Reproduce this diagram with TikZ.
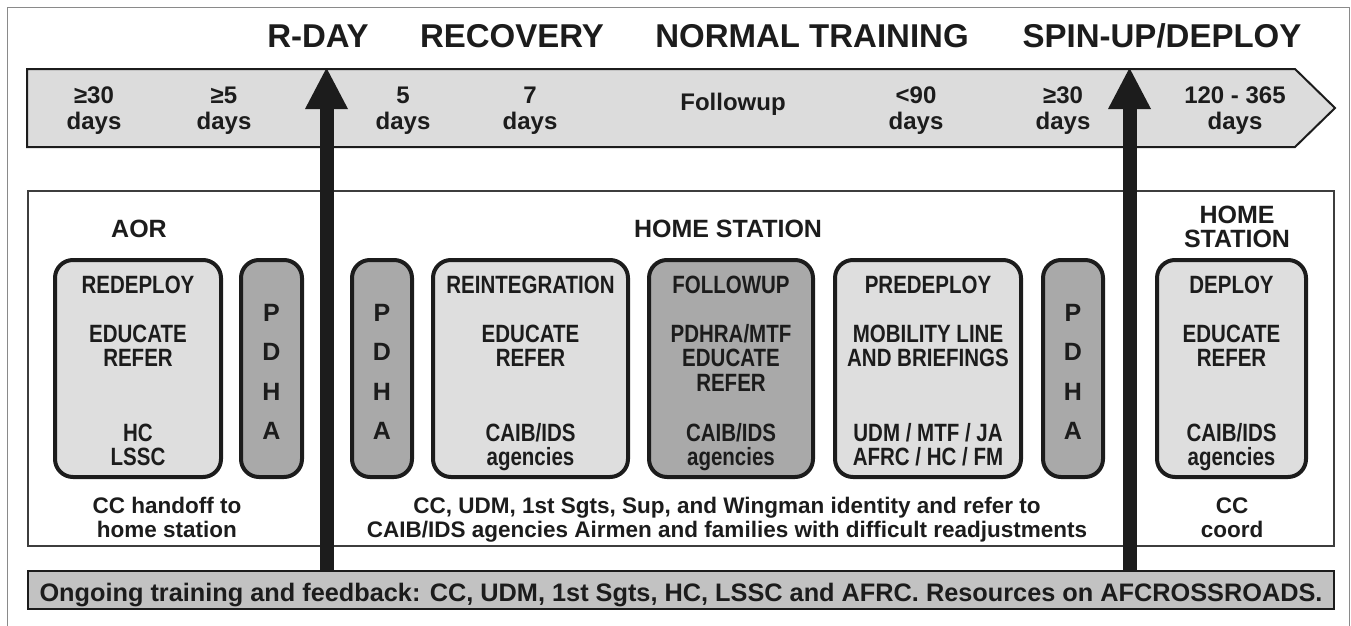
\documentclass[tikz,border=0pt]{standalone}
\usepackage{fontspec}
\setmainfont{Liberation Sans}
\newfontfamily\condsans{Liberation Sans}[FakeStretch=0.82]
\usetikzlibrary{arrows.meta}
\definecolor{ink}{HTML}{1C1C1C}
\definecolor{bandfill}{HTML}{DCDCDC}
\definecolor{lightfill}{HTML}{DEDEDE}
\definecolor{darkfill}{HTML}{A9A9A9}
\definecolor{barfill}{HTML}{C2C2C2}
\definecolor{framegray}{HTML}{8A8A8A}
\newcommand\txtlines[6]{%
  \foreach \t [count=\i] in {#6}{\node[#5] (#1-\i) at ({#2},{#3+(\i-1)*#4}) {\t};}}
\newcommand\gbox[4]{%
  \node[#4, minimum width={#3-#2-4}, minimum height=217] (#1) at ({(#2+#3)/2},368.5) {};}
\begin{document}
\begin{tikzpicture}[x=1pt,y=-1pt,
  headtxt/.style={anchor=base,inner sep=0,text=ink,font=\fontsize{33}{33}\selectfont\bfseries},
  bandtxt/.style={anchor=base,inner sep=0,text=ink,font=\fontsize{24}{24}\selectfont\bfseries},
  secttxt/.style={anchor=base,inner sep=0,text=ink,font=\fontsize{25}{25}\selectfont\bfseries},
  boxtxt/.style={anchor=base,inner sep=0,text=ink,font=\condsans\fontsize{25}{25}\selectfont\bfseries},
  pdhatxt/.style={anchor=base,inner sep=0,text=ink,font=\fontsize{25}{25}\selectfont\bfseries},
  bottxt/.style={anchor=base,inner sep=0,text=ink,font=\fontsize{22.5}{22.5}\selectfont\bfseries},
  bartxt/.style={anchor=base,inner sep=0,text=ink,font=\fontsize{25.3}{25.3}\selectfont\bfseries},
  lbox/.style={draw=ink,line width=4pt,rounded corners=18pt,fill=lightfill,inner sep=0},
  dbox/.style={lbox,fill=darkfill},
  bandshape/.style={draw=ink,line width=2pt,fill=bandfill,line join=miter},
  barbox/.style={draw=ink,line width=2pt,fill=barfill,inner sep=0},
  innerframe/.style={draw=ink!85,line width=2pt},
  outerframe/.style={draw=framegray,line width=1.5pt},
  bigarrow/.style={draw=ink,line width=14pt,-{Triangle[length=41pt,width=43pt,line width=0pt]}}
]
\useasboundingbox (0,0) rectangle (1351,626);
% outer frame
\draw[outerframe] (7.5,640) -- (7.5,7.5) -- (1349.5,7.5) -- (1349.5,640);
% phase headers
\node[headtxt] (hRday) at (318,48) {R-DAY};
\node[headtxt] (hRecov) at (512,48) {RECOVERY};
\node[headtxt] (hNorm) at (812,48) {NORMAL TRAINING};
\node[headtxt] (hSpin) at (1162,48) {SPIN-UP/DEPLOY};
% timeline band
\draw[bandshape] (27,69) -- (1295,69) -- (1335,108) -- (1295,147) -- (27,147) -- cycle;
\txtlines{b1}{94}{103}{26}{bandtxt}{≥30,days}
\txtlines{b2}{224}{103}{26}{bandtxt}{≥5,days}
\txtlines{b3}{403}{103}{26}{bandtxt}{5,days}
\txtlines{b4}{530}{103}{26}{bandtxt}{7,days}
\node[bandtxt] (b5) at (733,110) {Followup};
\txtlines{b6}{916}{103}{26}{bandtxt}{<90,days}
\txtlines{b7}{1063}{103}{26}{bandtxt}{≥30,days}
\txtlines{b8}{1235}{103}{26}{bandtxt}{120 - 365,days}
% inner frame
\draw[innerframe] (28,191) rectangle (1334,546);
% section headers
\node[secttxt] (sAor) at (139,237) {AOR};
\node[secttxt] (sHome) at (728,237) {HOME STATION};
\txtlines{sHome2}{1237}{223}{24}{secttxt}{HOME,STATION}
% boxes
\gbox{redeploy}{53}{223}{lbox}
\gbox{pdhaA}{239}{304}{dbox}
\gbox{pdhaB}{350}{414}{dbox}
\gbox{reint}{431}{630}{lbox}
\gbox{follow}{647}{815}{dbox}
\gbox{predep}{833}{1023}{lbox}
\gbox{pdhaC}{1041}{1105}{dbox}
\gbox{deploy}{1155}{1308}{lbox}
% box texts
\node[boxtxt] (redeploy-t) at (redeploy.center |- 0,293) {REDEPLOY};
\txtlines{redeploy-m}{138}{342}{24}{boxtxt}{EDUCATE,REFER}
\txtlines{redeploy-b}{138}{441}{24}{boxtxt}{HC,LSSC}
\txtlines{pdhaA-l}{271.5}{321}{39.5}{pdhatxt}{P,D,H,A}
\txtlines{pdhaB-l}{382}{321}{39.5}{pdhatxt}{P,D,H,A}
\txtlines{pdhaC-l}{1073}{321}{39.5}{pdhatxt}{P,D,H,A}
\node[boxtxt] (reint-t) at (reint.center |- 0,293) {REINTEGRATION};
\txtlines{reint-m}{530.5}{342}{24}{boxtxt}{EDUCATE,REFER}
\txtlines{reint-b}{530.5}{441}{24}{boxtxt}{CAIB/IDS,agencies}
\node[boxtxt] (follow-t) at (follow.center |- 0,293) {FOLLOWUP};
\txtlines{follow-m}{731}{342}{24.5}{boxtxt}{PDHRA/MTF,EDUCATE,REFER}
\txtlines{follow-b}{731}{441}{24}{boxtxt}{CAIB/IDS,agencies}
\node[boxtxt] (predep-t) at (predep.center |- 0,293) {PREDEPLOY};
\txtlines{predep-m}{928}{342}{24}{boxtxt}{MOBILITY LINE,AND BRIEFINGS}
\txtlines{predep-b}{928}{441}{24}{boxtxt}{UDM / MTF / JA,AFRC / HC / FM}
\node[boxtxt] (deploy-t) at (deploy.center |- 0,293) {DEPLOY};
\txtlines{deploy-m}{1231.5}{342}{24}{boxtxt}{EDUCATE,REFER}
\txtlines{deploy-b}{1231.5}{441}{24}{boxtxt}{CAIB/IDS,agencies}
% notes under boxes
\txtlines{nLeft}{167}{513}{24.5}{bottxt}{CC handoff to,home station}
\txtlines{nMid}{727}{513}{24.5}{bottxt}{{CC, UDM, 1st Sgts, Sup, and Wingman identity and refer to},{CAIB/IDS agencies Airmen and families with difficult readjustments}}
\txtlines{nRight}{1232}{513}{24.5}{bottxt}{CC,coord}
% bottom bar
\node[barbox, minimum width=1306, minimum height=38] (bar) at (681,590) {};
\node[bartxt] (bartext) at (681,601) {Ongoing training and feedback: CC, UDM, 1st Sgts, HC, LSSC and AFRC. Resources on AFCROSSROADS.};
% R-day and spin-up arrows
\coordinate (tipA) at (326.5,68);
\coordinate (tipB) at (1129.5,68);
\draw[bigarrow] (bar.north -| tipA) -- (tipA);
\draw[bigarrow] (bar.north -| tipB) -- (tipB);
\end{tikzpicture}
\end{document}
